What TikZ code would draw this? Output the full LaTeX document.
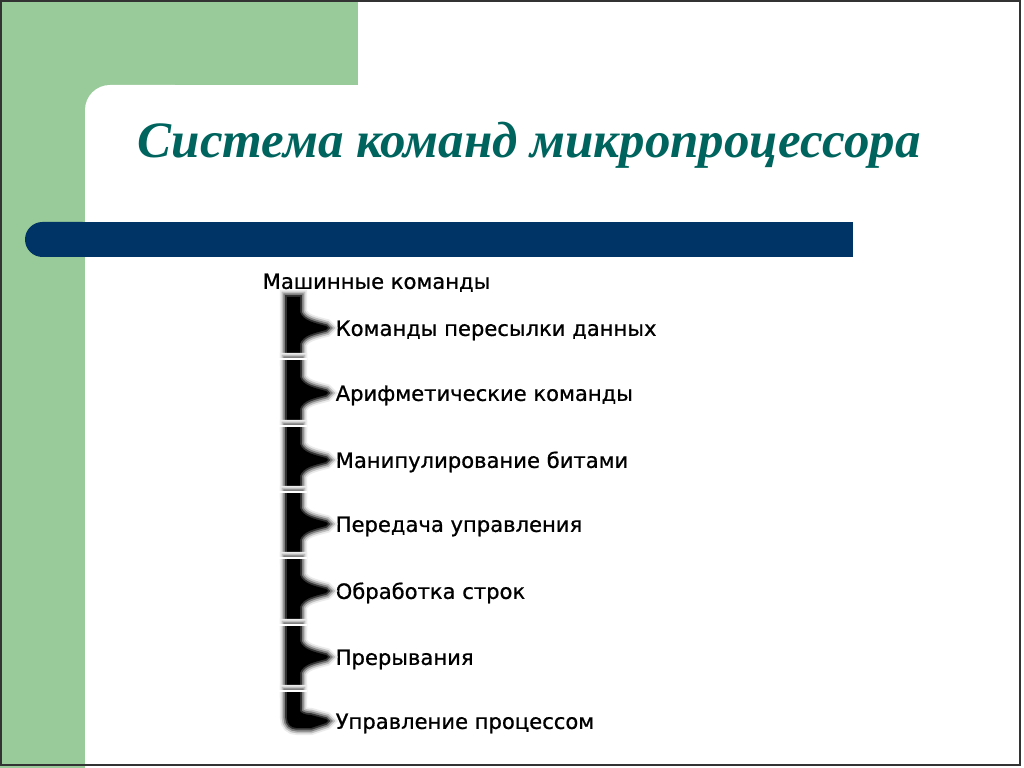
\documentclass[tikz,border=0pt]{standalone}
\usepackage{fontspec}
\usetikzlibrary{positioning}
\newfontfamily\titlefont{Liberation Serif}
\newfontfamily\itemfont[FakeBold=0.8]{DejaVu Sans}
\definecolor{slidegreen}{RGB}{153,202,153}
\definecolor{titleteal}{RGB}{0,100,94}
\definecolor{barblue}{RGB}{0,51,102}

\begin{document}
\begin{tikzpicture}[
    x=0.01cm, y=-0.01cm,
    every node/.style={inner sep=0pt},
    heading/.style={anchor=base west,font=\titlefont\bfseries\itshape\fontsize{14.5}{17}\selectfont,text=titleteal},
    item/.style={anchor=west,text height=4.5pt,text depth=0pt,font=\itemfont\fontsize{6.0}{7.2}\selectfont},
    stem/.style={fill=black,line join=round,
      preaction={draw=black!8,line width=4pt},
      preaction={draw=black!25,line width=3pt},
      preaction={draw=black!50,line width=2pt},
      preaction={draw=black!80,line width=1pt}}
  ]
    \useasboundingbox (0,0) rectangle (1024,768);
    \fill[white] (0,0) rectangle (1024,768);

    % Green corner
    \fill[slidegreen] (0,0) rectangle (358,85);
    \fill[slidegreen] (0,0) rectangle (85,768);
    \fill[slidegreen] (85,85) rectangle (130,130);
    \fill[white,rounded corners=0.25cm] (85,85) rectangle (200,200);

    % Blue bar
    \fill[barblue,rounded corners=0.175cm] (25,222) rectangle (100,257);
    \fill[barblue] (60,222) rectangle (853,257);

    % Title
    \node[heading] (title) at (137,158) {Система команд микропроцессора};

    % Root
    \node[item] (root) at (262,281) {Машинные команды};

    % Branches
    \foreach \i/\t/\c/\b/\txt in {
        1/297/328/358/Команды пересылки данных,
        2/360/393/425/Арифметические команды,
        3/427/460/491/Манипулирование битами,
        4/493/524/557/Передача управления,
        5/559/591/624/Обработка строк,
        6/626/657/690/Прерывания} {
      \node[item] (m\i) at (335,\c) {\txt};
      \fill[stem] (287,\t) -- (300,\t) -- (300,\c-16)
        .. controls (303,\c-7) and (315,\c-5) .. (326,\c-2)
        -- ([xshift=-0.7mm]m\i.west) -- (326,\c+2)
        .. controls (315,\c+5) and (303,\c+7) .. (300,\c+16)
        -- (300,\b) -- (287,\b) -- cycle;
    }

    % Last branch
    \node[item] (m7) at (335,721) {Управление процессом};
    \fill[stem] (287,692) -- (300,692) -- (300,711)
      .. controls (301,713) and (305,715) .. (311,715)
      -- (326,719) -- ([xshift=-0.7mm]m7.west) -- (326,723)
      -- (311,728) -- (297,728)
      .. controls (291,728) and (287,724) .. (287,718) -- cycle;

    % Separators
    \foreach \s in {359,426,492,558,625,691}
      \draw[white,line width=0.7pt] (276,\s) -- (307,\s);

    % Frame
    \draw[black!80,line width=0.6pt] (1,1) rectangle (1020,765);
  \end{tikzpicture}
\end{document}
